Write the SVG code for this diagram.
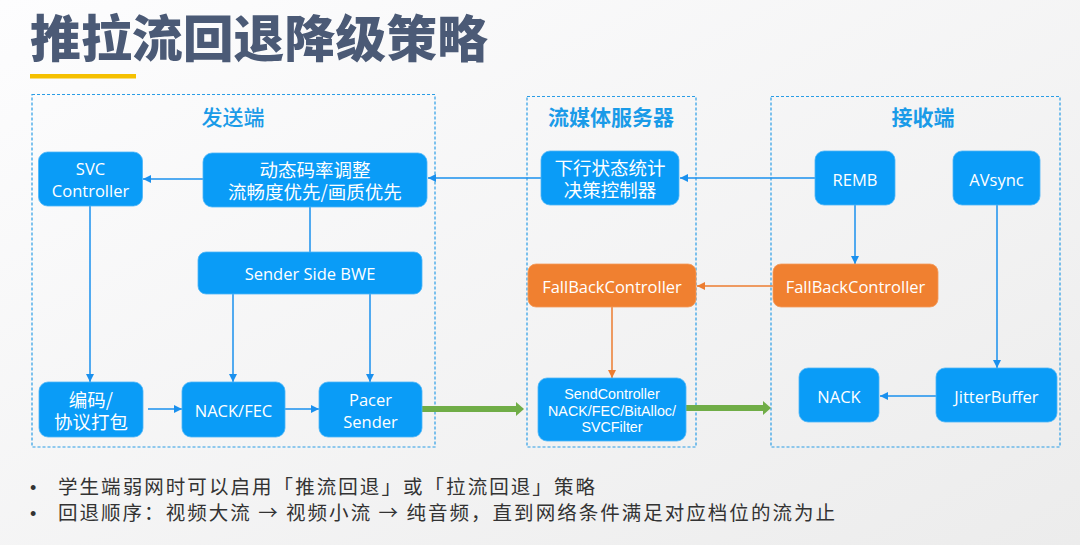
<svg xmlns="http://www.w3.org/2000/svg" width="1080" height="545" viewBox="0 0 1080 545">
<defs>
<linearGradient id="bg" x1="0" y1="0" x2="1" y2="1">
<stop offset="0" stop-color="#fdfdfe"/>
<stop offset="1" stop-color="#ececec"/>
</linearGradient>
<marker id="ab" markerUnits="userSpaceOnUse" markerWidth="9" markerHeight="8" refX="8" refY="4" orient="auto">
<path d="M0,0 L8,4 L0,8 z" fill="#1a90ee"/>
</marker>
<marker id="ao" markerUnits="userSpaceOnUse" markerWidth="9" markerHeight="8" refX="8" refY="4" orient="auto">
<path d="M0,0 L8,4 L0,8 z" fill="#ed7d31"/>
</marker>
<marker id="ag" markerUnits="userSpaceOnUse" markerWidth="9" markerHeight="14" refX="0" refY="7" orient="auto">
<path d="M0,0 L8,7 L0,14 z" fill="#70ad47"/>
</marker>
</defs>
<style>
.grp{fill:none;stroke:#2a9de6;stroke-width:1.2;stroke-dasharray:3 2}
.gt{font-family:"Noto Sans CJK SC",sans-serif;font-size:21px;fill:#1a9be8;text-anchor:middle;dominant-baseline:central}
.nb{fill:#0a9cf7;stroke:#4db5f7;stroke-width:0.8}
.no{fill:#f08030;stroke:#f49a5a;stroke-width:0.8}
.t{font-family:"Open Sans","Noto Sans CJK SC",sans-serif;font-size:16.5px;fill:#ffffff;text-anchor:middle;dominant-baseline:central}
.tc{font-family:"Noto Sans CJK SC",sans-serif;font-size:18.5px;fill:#ffffff;text-anchor:middle;dominant-baseline:central}
.ts{font-family:"Liberation Sans",Arial,sans-serif;font-size:14.3px;fill:#ffffff;text-anchor:middle;dominant-baseline:central}
.cb{fill:none;stroke:#1a90ee;stroke-width:1.5;marker-end:url(#ab)}
.cl{fill:none;stroke:#1a90ee;stroke-width:1.5}
.co{fill:none;stroke:#ed7d31;stroke-width:1.5;marker-end:url(#ao)}
.cg{fill:none;stroke:#70ad47;stroke-width:6;marker-end:url(#ag)}
.bl{font-family:"Noto Sans CJK SC",sans-serif;font-size:19.5px;fill:#333333}
.bu{font-family:"Liberation Sans",Arial,sans-serif;font-size:18px;fill:#333333}
</style>
<rect x="0" y="0" width="1080" height="545" fill="url(#bg)"/>
<text x="30" y="57" font-family="'Noto Sans CJK SC',sans-serif" font-size="50" font-weight="900" fill="#4b5a76" textLength="458" lengthAdjust="spacingAndGlyphs">推拉流回退降级策略</text>
<rect x="30" y="74" width="106" height="4.5" fill="#f5c000"/>

<g id="grp-sender"><rect class="grp" x="32" y="94.5" width="403" height="352.5"/><text class="gt" x="233" y="116" font-weight="500">发送端</text></g>
<g id="grp-server"><rect class="grp" x="527" y="96.5" width="169" height="350.5"/><text class="gt" x="611" y="116" font-weight="bold">流媒体服务器</text></g>
<g id="grp-receiver"><rect class="grp" x="771" y="96.5" width="289" height="350.5"/><text class="gt" x="923" y="116" font-weight="bold">接收端</text></g>

<g id="connectors">
<path class="cb" d="M203,179 L143,179"/>
<path class="cb" d="M541,178 L428,178"/>
<path class="cb" d="M815,178 L680,178"/>
<path class="cl" d="M310,207 L310,252"/>
<path class="cb" d="M233,294 L233,382"/>
<path class="cb" d="M370,294 L370,382"/>
<path class="cb" d="M90,206 L90,382"/>
<path class="cb" d="M148,409 L182,409"/>
<path class="cb" d="M285,409 L319,409"/>
<path class="cg" d="M422,409 L516,409"/>
<path class="cg" d="M686,408 L763,408"/>
<path class="cb" d="M855,205 L855,264"/>
<path class="co" d="M773,286 L697,286"/>
<path class="co" d="M612,307 L612,378"/>
<path class="cb" d="M997,205 L997,368"/>
<path class="cb" d="M936,396 L880,396"/>
</g>

<g id="n-svc"><rect class="nb" x="38.5" y="152" width="104" height="54" rx="9"/><text class="t" x="90.5" y="168">SVC</text><text class="t" x="90.5" y="190">Controller</text></g>
<g id="n-rate"><rect class="nb" x="203" y="153" width="224" height="54" rx="9"/><text class="tc" x="315" y="169">动态码率调整</text><text class="tc" x="315" y="191">流畅度优先/画质优先</text></g>
<g id="n-bwe"><rect class="nb" x="198" y="252" width="224" height="42" rx="8"/><text class="t" x="310" y="273">Sender Side BWE</text></g>
<g id="n-enc"><rect class="nb" x="39" y="382" width="104" height="55" rx="9"/><text class="tc" x="91" y="399">编码/</text><text class="tc" x="91" y="421">协议打包</text></g>
<g id="n-nackfec"><rect class="nb" x="182" y="382" width="103" height="55" rx="9"/><text class="t" x="233.5" y="410">NACK/FEC</text></g>
<g id="n-pacer"><rect class="nb" x="319" y="382" width="103" height="55" rx="9"/><text class="t" x="370.5" y="399">Pacer</text><text class="t" x="370.5" y="421">Sender</text></g>
<g id="n-down"><rect class="nb" x="541" y="151" width="138" height="54" rx="9"/><text class="tc" x="610" y="167">下行状态统计</text><text class="tc" x="610" y="189">决策控制器</text></g>
<g id="n-fb-server"><rect class="no" x="528" y="264" width="168" height="43" rx="8"/><text class="t" x="612" y="286">FallBackController</text></g>
<g id="n-sendctl"><rect class="nb" x="538" y="378" width="148" height="63" rx="9"/><text class="ts" x="612" y="394">SendController</text><text class="ts" x="612" y="410.5">NACK/FEC/BitAlloc/</text><text class="ts" x="612" y="427">SVCFilter</text></g>
<g id="n-remb"><rect class="nb" x="815" y="151" width="80" height="54" rx="9"/><text class="t" x="855" y="179">REMB</text></g>
<g id="n-avsync"><rect class="nb" x="953" y="151" width="87" height="54" rx="9"/><text class="t" x="996.5" y="179">AVsync</text></g>
<g id="n-fb-recv"><rect class="no" x="773" y="264" width="165" height="43" rx="8"/><text class="t" x="855.5" y="286">FallBackController</text></g>
<g id="n-nack"><rect class="nb" x="799" y="368" width="80" height="54" rx="9"/><text class="t" x="839" y="396">NACK</text></g>
<g id="n-jitter"><rect class="nb" x="936" y="368" width="121" height="54" rx="9"/><text class="t" x="996.5" y="396">JitterBuffer</text></g>

<text class="bu" x="30" y="494">•</text>
<text class="bl" x="58" y="494" textLength="537" lengthAdjust="spacing">学生端弱网时可以启用「推流回退」或「拉流回退」策略</text>
<text class="bu" x="30" y="520">•</text>
<text class="bl" x="58" y="520" textLength="777" lengthAdjust="spacing">回退顺序：视频大流 → 视频小流 → 纯音频，直到网络条件满足对应档位的流为止</text>
</svg>
